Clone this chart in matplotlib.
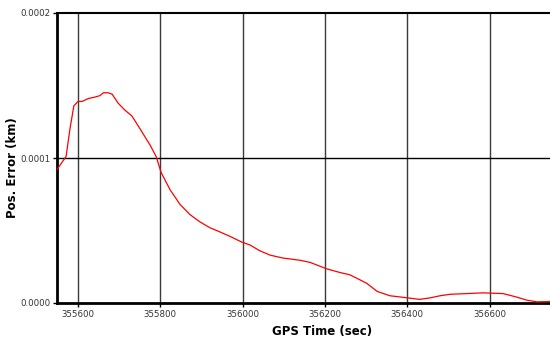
import matplotlib
matplotlib.use("Agg")
import matplotlib.pyplot as plt
from matplotlib.ticker import FormatStrFormatter

# GPS time (sec) and position error (km)
gps_time = [355549, 355561, 355571, 355581, 355590, 355600, 355610, 355625,
            355641, 355653, 355662, 355673, 355683, 355697, 355714, 355731,
            355751, 355775, 355790, 355802, 355824, 355848, 355872, 355896,
            355920, 355945, 355969, 355998, 356018, 356042, 356067, 356098,
            356139, 356164, 356205, 356237, 356260, 356278, 356302, 356327,
            356358, 356402, 356430, 356455, 356480, 356504, 356545, 356584,
            356633, 356667, 356690, 356715, 356747]
pos_error = [9.2, 9.7, 10.1, 12.1, 13.6, 13.9, 13.9, 14.1,
             14.2, 14.3, 14.5, 14.5, 14.4, 13.8, 13.3, 12.9,
             12.0, 10.9, 10.1, 9.0, 7.8, 6.8, 6.1, 5.6,
             5.2, 4.9, 4.6, 4.2, 4.0, 3.6, 3.3, 3.1,
             2.95, 2.8, 2.35, 2.1, 1.95, 1.7, 1.35, 0.8,
             0.5, 0.35, 0.25, 0.35, 0.5, 0.6, 0.65, 0.7,
             0.65, 0.4, 0.2, 0.08, 0.1]
pos_error = [v * 1e-5 for v in pos_error]

x_ticks = [355600, 355800, 356000, 356200, 356400, 356600]
y_ticks = [0.0, 0.0001, 0.0002]

fig = plt.figure(figsize=(5.5, 3.42), dpi=100)
ax = fig.add_axes([57 / 550, 1 - 303 / 342, 1 - 57 / 550, 290 / 342])

for t in x_ticks:
    ax.axvline(t, color="#3a3a3a", linewidth=1.0, zorder=1)
ax.axhline(0.0001, color="black", linewidth=1.0, zorder=1)

ax.plot(gps_time, pos_error, color="red", linewidth=0.9, zorder=3)

ax.set_xlim(355549, 356747)
ax.set_ylim(0, 0.0002)
ax.set_xticks(x_ticks)
ax.set_yticks(y_ticks)
ax.yaxis.set_major_formatter(FormatStrFormatter("%.4f"))
ax.tick_params(labelsize=6.2, labelcolor="#333333", length=3, width=1, pad=2)

ax.spines["left"].set_linewidth(2)
ax.spines["bottom"].set_linewidth(2)
ax.spines["top"].set_linewidth(1.5)
ax.spines["right"].set_visible(False)

ax.set_xlabel("GPS Time (sec)", fontsize=8.5, fontweight="bold")
ax.set_ylabel("Pos. Error (km)", fontsize=8.5, fontweight="bold")
ax.xaxis.set_label_coords((322 - 57) / 493, (303 - 325) / 290)
ax.yaxis.set_label_coords((19 - 57) / 493, (303 - 168) / 290)

fig.savefig("out.png", dpi=100)
